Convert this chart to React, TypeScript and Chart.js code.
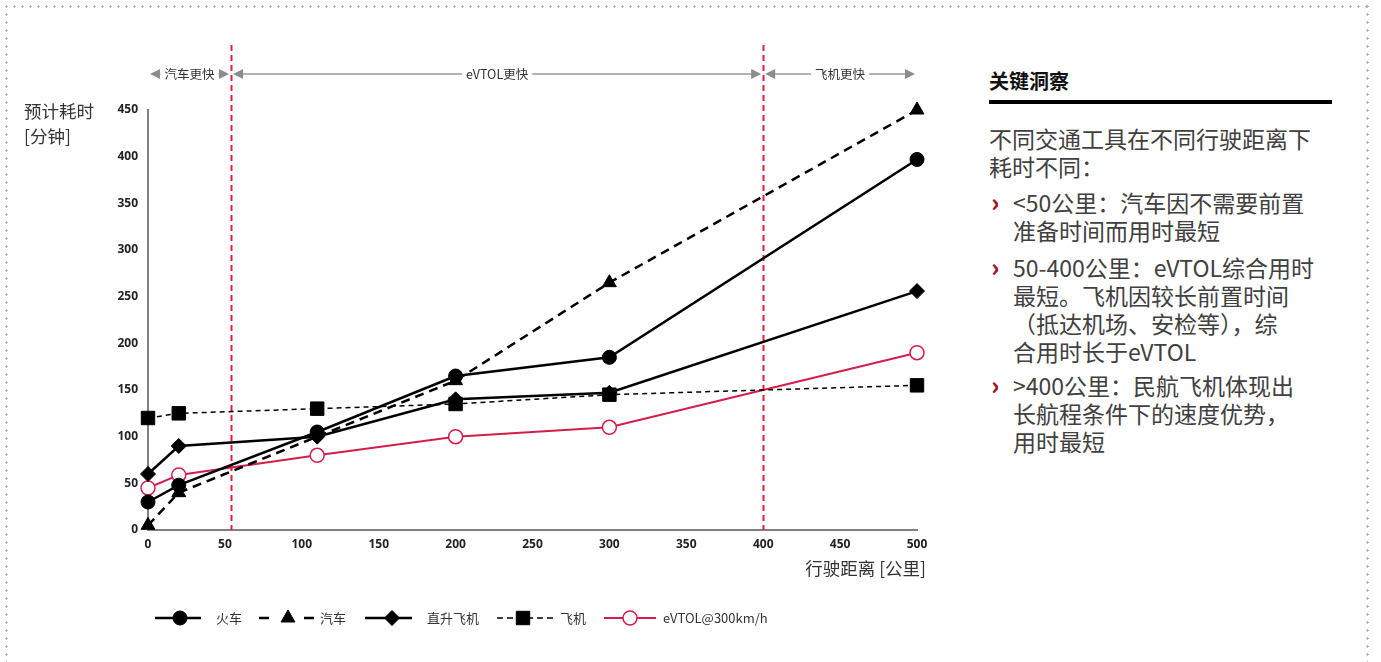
import React, { useEffect, useRef } from 'react';
import { Chart, registerables } from 'chart.js';

Chart.register(...registerables);

// ---------- data ----------
const distances = [0, 20, 110, 200, 300, 500];
const trainMinutes = [30, 48, 105, 165, 185, 397];
const carDistances = [0, 20, 200, 300, 500];
const carMinutes = [5, 40, 160, 265, 450];
const heliMinutes = [60, 90, 100, 140, 147, 256];
const planeMinutes = [120, 125, 130, 135, 145, 155];
const evtolMinutes = [45, 59, 80, 100, 110, 190];
const seriesNames = ['火车', '汽车', '直升飞机', '飞机', 'eVTOL@300km/h'];
const zoneBounds = [0, 54, 400, 500];
const zoneLabels = ['汽车更快', 'eVTOL更快', '飞机更快'];
const thresholds = [54, 400];
const xMin = 0, xMax = 500, xStep = 50;
const yMin = 0, yMax = 450, yStep = 50;
const yTitle = ['预计耗时', '[分钟]'];
const xTitle = '行驶距离 [公里]';

const RED = '#d41d4b';
const RED_LINE = '#e61e3c';
const CJK = '"Noto Sans CJK SC", "Open Sans", sans-serif';
const NUM = '"Open Sans", "Noto Sans CJK SC", sans-serif';

const toPts = (xs: number[], ys: number[]) => xs.map((x, i) => ({ x, y: ys[i] }));

function drawMarker(ctx: CanvasRenderingContext2D, style: string, x: number, y: number, r: number, fill: string, stroke: string, lw: number) {
  ctx.save();
  ctx.setLineDash([]);
  ctx.beginPath();
  if (style === 'circle') {
    ctx.arc(x, y, r, 0, Math.PI * 2);
  } else if (style === 'triangle') {
    ctx.moveTo(x, y - r);
    ctx.lineTo(x + r * Math.sin(Math.PI * 2 / 3), y - r * Math.cos(Math.PI * 2 / 3));
    ctx.lineTo(x + r * Math.sin(Math.PI * 4 / 3), y - r * Math.cos(Math.PI * 4 / 3));
    ctx.closePath();
  } else if (style === 'rectRot') {
    ctx.moveTo(x, y - r);
    ctx.lineTo(x + r, y);
    ctx.lineTo(x, y + r);
    ctx.lineTo(x - r, y);
    ctx.closePath();
  } else {
    const s = r * Math.SQRT1_2;
    ctx.rect(x - s, y - s, 2 * s, 2 * s);
  }
  ctx.fillStyle = fill;
  ctx.fill();
  ctx.strokeStyle = stroke;
  ctx.lineWidth = lw;
  ctx.stroke();
  ctx.restore();
}

// legend layout (decoration only)
const legendLayout = [
  { x0: 155, x1: 201, mx: 180, tx: 216, dash: [] as number[] },
  { x0: 259, x1: 314, mx: 288, tx: 320, dash: [10, 35] },
  { x0: 365, x1: 412, mx: 392, tx: 427, dash: [] as number[] },
  { x0: 497, x1: 553, mx: 523, tx: 560, dash: [6, 4] },
  { x0: 604, x1: 656, mx: 630, tx: 663, dash: [] as number[] },
];

const overlayPlugin = {
  id: 'overlay',
  beforeDatasetsDraw(chart: any) {
    const { ctx, chartArea, scales } = chart;
    const x = scales.x;
    ctx.save();
    ctx.strokeStyle = RED_LINE;
    ctx.lineWidth = 2;
    ctx.setLineDash([6, 4]);
    thresholds.forEach((t) => {
      const px = Math.round(x.getPixelForValue(t)) + 0.5;
      ctx.beginPath();
      ctx.moveTo(px, 45);
      ctx.lineTo(px, chartArea.bottom);
      ctx.stroke();
    });
    ctx.restore();
  },
  afterDraw(chart: any) {
    const { ctx, scales } = chart;
    const x = scales.x;
    ctx.save();
    // zone arrows
    const zy = 74;
    ctx.font = `12.5px ${CJK}`;
    zoneLabels.forEach((label, i) => {
      const a = x.getPixelForValue(zoneBounds[i]) + 2;
      const b = x.getPixelForValue(zoneBounds[i + 1]) - 2;
      const cx = (a + b) / 2;
      const tw = ctx.measureText(label).width;
      ctx.strokeStyle = '#9a9a9a';
      ctx.lineWidth = 1.5;
      ctx.setLineDash([]);
      const l1 = cx - tw / 2 - 4;
      const r1 = cx + tw / 2 + 4;
      if (l1 > a + 10) {
        ctx.beginPath(); ctx.moveTo(a + 9, zy); ctx.lineTo(l1, zy); ctx.stroke();
      }
      if (r1 < b - 10) {
        ctx.beginPath(); ctx.moveTo(r1, zy); ctx.lineTo(b - 9, zy); ctx.stroke();
      }
      ctx.fillStyle = '#8c8c8c';
      ctx.beginPath(); ctx.moveTo(a, zy); ctx.lineTo(a + 10, zy - 5); ctx.lineTo(a + 10, zy + 5); ctx.closePath(); ctx.fill();
      ctx.beginPath(); ctx.moveTo(b, zy); ctx.lineTo(b - 10, zy - 5); ctx.lineTo(b - 10, zy + 5); ctx.closePath(); ctx.fill();
      ctx.fillStyle = '#333';
      ctx.textAlign = 'center';
      ctx.textBaseline = 'middle';
      ctx.fillText(label, cx, zy);
    });

    // axis titles
    ctx.font = `17.5px ${CJK}`;
    ctx.fillStyle = '#333';
    ctx.textAlign = 'left';
    ctx.textBaseline = 'middle';
    ctx.fillText(yTitle[0], 24, 111);
    ctx.fillText(yTitle[1], 24, 136);
    ctx.textAlign = 'right';
    ctx.fillText(xTitle, 926, 568);

    // legend
    const ly = 618;
    chart.data.datasets.forEach((ds: any, i: number) => {
      const L = legendLayout[i];
      ctx.save();
      ctx.strokeStyle = ds.borderColor;
      ctx.lineWidth = ds.borderWidth;
      ctx.setLineDash(L.dash);
      ctx.beginPath();
      ctx.moveTo(L.x0, ly);
      ctx.lineTo(L.x1, ly);
      ctx.stroke();
      ctx.restore();
      drawMarker(ctx, ds.pointStyle, L.mx, ly, ds.pointRadius, ds.pointBackgroundColor, ds.pointBorderColor, ds.pointBorderWidth);
      ctx.font = `13px ${CJK}`;
      ctx.fillStyle = '#333';
      ctx.textAlign = 'left';
      ctx.textBaseline = 'middle';
      ctx.fillText(seriesNames[i], L.tx, ly);
    });
    ctx.restore();
  },
};

export default function App() {
  const ref = useRef<HTMLCanvasElement>(null);
  useEffect(() => {
    const chart = new Chart(ref.current as HTMLCanvasElement, {
      type: 'line',
      data: {
        datasets: [
          {
            label: seriesNames[0], data: toPts(distances, trainMinutes), clip: false,
            borderColor: '#000', borderWidth: 2.5, tension: 0,
            pointStyle: 'circle', pointRadius: 7, pointHoverRadius: 7,
            pointBackgroundColor: '#000', pointBorderColor: '#000', pointBorderWidth: 1,
          },
          {
            label: seriesNames[1], data: toPts(carDistances, carMinutes), clip: false,
            borderColor: '#000', borderWidth: 2.5, borderDash: [9, 6], tension: 0,
            pointStyle: 'triangle', pointRadius: 8, pointHoverRadius: 8,
            pointBackgroundColor: '#000', pointBorderColor: '#000', pointBorderWidth: 1,
          },
          {
            label: seriesNames[2], data: toPts(distances, heliMinutes), clip: false,
            borderColor: '#000', borderWidth: 2.5, tension: 0,
            pointStyle: 'rectRot', pointRadius: 7.5, pointHoverRadius: 7.5,
            pointBackgroundColor: '#000', pointBorderColor: '#000', pointBorderWidth: 1,
          },
          {
            label: seriesNames[3], data: toPts(distances, planeMinutes), clip: false,
            borderColor: '#000', borderWidth: 1.5, borderDash: [5, 4], tension: 0,
            pointStyle: 'rect', pointRadius: 9.5, pointHoverRadius: 9.5,
            pointBackgroundColor: '#000', pointBorderColor: '#000', pointBorderWidth: 1,
          },
          {
            label: seriesNames[4], data: toPts(distances, evtolMinutes), clip: false,
            borderColor: RED, borderWidth: 2, tension: 0,
            pointStyle: 'circle', pointRadius: 7, pointHoverRadius: 7,
            pointBackgroundColor: '#fff', pointBorderColor: RED, pointBorderWidth: 1.5,
          },
        ],
      },
      options: {
        responsive: false,
        animation: false,
        layout: { padding: { left: 108, top: 110, right: 43, bottom: 102 } },
        plugins: { legend: { display: false }, tooltip: { enabled: false } },
        scales: {
          x: {
            type: 'linear', min: xMin, max: xMax,
            grid: { display: false, drawTicks: false },
            border: { display: true, color: '#808080', width: 2 },
            ticks: { stepSize: xStep, padding: 7, color: '#222', font: { family: NUM, size: 12, weight: 'bold' } },
            afterFit: (s: any) => { s.height = 30; },
          },
          y: {
            type: 'linear', min: yMin, max: yMax,
            grid: { display: false, drawTicks: false },
            border: { display: true, color: '#808080', width: 2 },
            ticks: { stepSize: yStep, padding: 10, color: '#222', font: { family: NUM, size: 12, weight: 'bold' } },
            afterFit: (s: any) => { s.width = 40; },
          },
        },
      } as any,
      plugins: [overlayPlugin],
    });
    return () => chart.destroy();
  }, []);

  const dot = '#b5b5b5';
  const hDots = `radial-gradient(circle at 1.5px 1.5px, ${dot} 1px, transparent 1.4px)`;
  const textStyle: React.CSSProperties = {
    position: 'absolute', left: 1013, fontFamily: CJK, fontSize: 23, lineHeight: '28px',
    color: '#404040', whiteSpace: 'nowrap', margin: 0,
  };
  const chevron = (top: number) => (
    <div style={{ position: 'absolute', left: 991, top: top - 1, fontFamily: CJK, fontSize: 25, fontWeight: 900, lineHeight: '28px', color: '#a3142f' }}>›</div>
  );

  return (
    <div style={{ position: 'absolute', left: 0, top: 0, width: 1381, height: 662, overflow: 'hidden', background: '#fff' }}>
      {/* dotted frame */}
      <div style={{ position: 'absolute', left: 5, top: 5, width: 1364, height: 3, backgroundImage: hDots, backgroundSize: '8px 3px', backgroundRepeat: 'repeat-x' }} />
      <div style={{ position: 'absolute', left: 5, top: 5, width: 3, height: 660, backgroundImage: hDots, backgroundSize: '3px 8px', backgroundRepeat: 'repeat-y' }} />
      <div style={{ position: 'absolute', left: 1366, top: 5, width: 3, height: 660, backgroundImage: hDots, backgroundSize: '3px 8px', backgroundRepeat: 'repeat-y' }} />

      <canvas ref={ref} width={960} height={662} style={{ position: 'absolute', left: 0, top: 0, width: 960, height: 662 }} />

      {/* insight panel */}
      <div style={{ position: 'absolute', left: 989, top: 68, fontFamily: CJK, fontSize: 20, fontWeight: 700, lineHeight: '26px', color: '#111' }}>关键洞察</div>
      <div style={{ position: 'absolute', left: 989, top: 100, width: 343, height: 4, background: '#000' }} />
      <div style={{ ...textStyle, left: 989, top: 124 }}>不同交通工具在不同行驶距离下<br />耗时不同：</div>
      {chevron(188)}
      <div style={{ ...textStyle, top: 188 }}>&lt;50公里：汽车因不需要前置<br />准备时间而用时最短</div>
      {chevron(253)}
      <div style={{ ...textStyle, top: 253 }}>50-400公里：eVTOL综合用时<br />最短。飞机因较长前置时间<br />（抵达机场、安检等），综<br />合用时长于eVTOL</div>
      {chevron(371)}
      <div style={{ ...textStyle, top: 371 }}>&gt;400公里：民航飞机体现出<br />长航程条件下的速度优势，<br />用时最短</div>
    </div>
  );
}
